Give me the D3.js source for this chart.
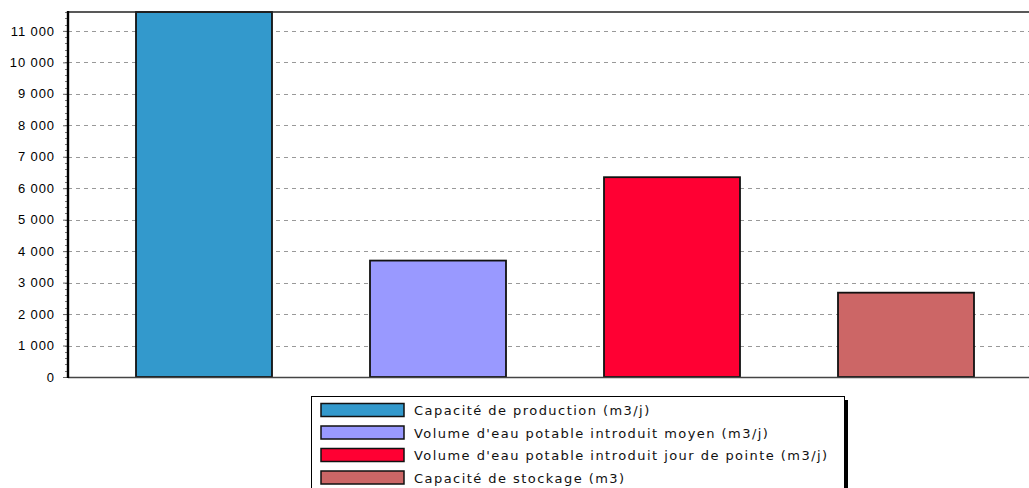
<!DOCTYPE html>
<html>
<head>
<meta charset="utf-8">
<script src="https://cdn.jsdelivr.net/npm/d3@7"></script>
<style>
  html, body { margin: 0; padding: 0; background: #fff; }
  svg { display: block; }
</style>
</head>
<body>
<svg id="chart" width="1029" height="488"></svg>
<script>
// Water supply indicators
const categories = [
  "Capacité de production (m3/j)",
  "Volume d'eau potable introduit moyen (m3/j)",
  "Volume d'eau potable introduit jour de pointe (m3/j)",
  "Capacité de stockage (m3)"
];
const values = [11600, 3700, 6350, 2680];
const colors = ["#3399CC", "#9999FF", "#FF0033", "#CC6666"];
const yTicks = [0, 1000, 2000, 3000, 4000, 5000, 6000, 7000, 8000, 9000, 10000, 11000];
const yMax = 11600;

const svg = d3.select("#chart");
const plot = { left: 68, top: 12, bottom: 377, right: 1029 };

const y = d3.scaleLinear().domain([0, yMax]).range([plot.bottom, plot.top]);
const x = d3.scaleBand().domain(categories).range([87, 1023])
  .paddingInner(0.4188).paddingOuter(0.2094);

const fr = d3.formatLocale({ decimal: ",", thousands: "\u00a0", grouping: [3], currency: ["", " €"] });
const fmt = fr.format(",d");

// dashed horizontal grid
svg.append("g").selectAll("line").data(yTicks.filter(d => d > 0)).join("line")
  .attr("x1", plot.left).attr("x2", plot.right)
  .attr("y1", d => Math.round(y(d)) + 0.5).attr("y2", d => Math.round(y(d)) + 0.5)
  .attr("stroke", "#999").attr("stroke-width", 1.2).attr("stroke-dasharray", "4,4");

// bars
svg.append("g").selectAll("rect").data(categories).join("rect")
  .attr("x", d => x(d))
  .attr("y", (d, i) => y(values[i]))
  .attr("width", x.bandwidth())
  .attr("height", (d, i) => y(0) - y(values[i]))
  .attr("fill", (d, i) => colors[i])
  .attr("stroke", "#111").attr("stroke-width", 1.8);

// bottom axis line
svg.append("line")
  .attr("x1", plot.left).attr("x2", plot.right)
  .attr("y1", plot.bottom + 0.5).attr("y2", plot.bottom + 0.5)
  .attr("stroke", "#444").attr("stroke-width", 1.5);

// top frame line
svg.append("line")
  .attr("x1", plot.left).attr("x2", plot.right)
  .attr("y1", plot.top).attr("y2", plot.top)
  .attr("stroke", "#222").attr("stroke-width", 1.6);

// minor ticks on the value axis
const minor = d3.range(0, yMax + 1, 200);
svg.append("g").selectAll("line").data(minor).join("line")
  .attr("x1", plot.left - 3).attr("x2", plot.left)
  .attr("y1", d => Math.round(y(d)) + 0.5).attr("y2", d => Math.round(y(d)) + 0.5)
  .attr("stroke", "#777").attr("stroke-width", 1);

// value axis
const yAxis = d3.axisLeft(y).tickValues(yTicks).tickFormat(fmt).tickSize(7).tickPadding(6);
const ga = svg.append("g").attr("transform", `translate(${plot.left},0)`).call(yAxis);
ga.select(".domain").remove();
ga.selectAll(".tick line").attr("stroke", "#666").attr("stroke-dasharray", "5,2");
ga.selectAll(".tick text")
  .attr("font-family", "'Liberation Sans', Arial, sans-serif")
  .attr("font-size", 13).attr("letter-spacing", 0.9).attr("fill", "#000");

// left axis line
svg.append("line")
  .attr("x1", plot.left).attr("x2", plot.left)
  .attr("y1", plot.top - 1).attr("y2", plot.bottom + 1)
  .attr("stroke", "#000").attr("stroke-width", 2.4);

// legend
const lg = svg.append("g");
const lx = 311, ly = 396, lw = 533;
lg.append("rect").attr("x", lx + lw).attr("y", ly + 4).attr("width", 4).attr("height", 120).attr("fill", "#000");
lg.append("rect").attr("x", lx + 0.5).attr("y", ly + 0.5).attr("width", lw).attr("height", 120)
  .attr("fill", "#fff").attr("stroke", "#000").attr("stroke-width", 1);
const rows = lg.selectAll("g.row").data(categories).join("g")
  .attr("class", "row")
  .attr("transform", (d, i) => `translate(0,${403.5 + i * 22.5})`);
rows.append("rect")
  .attr("x", 321).attr("y", 0).attr("width", 83).attr("height", 13)
  .attr("fill", (d, i) => colors[i]).attr("stroke", "#111").attr("stroke-width", 1.5);
rows.append("text")
  .attr("x", 414).attr("y", 11.5)
  .attr("font-family", "'DejaVu Sans', Verdana, sans-serif")
  .attr("font-size", 13).attr("letter-spacing", 1.45).attr("fill", "#111")
  .text(d => d);
</script>
</body>
</html>
